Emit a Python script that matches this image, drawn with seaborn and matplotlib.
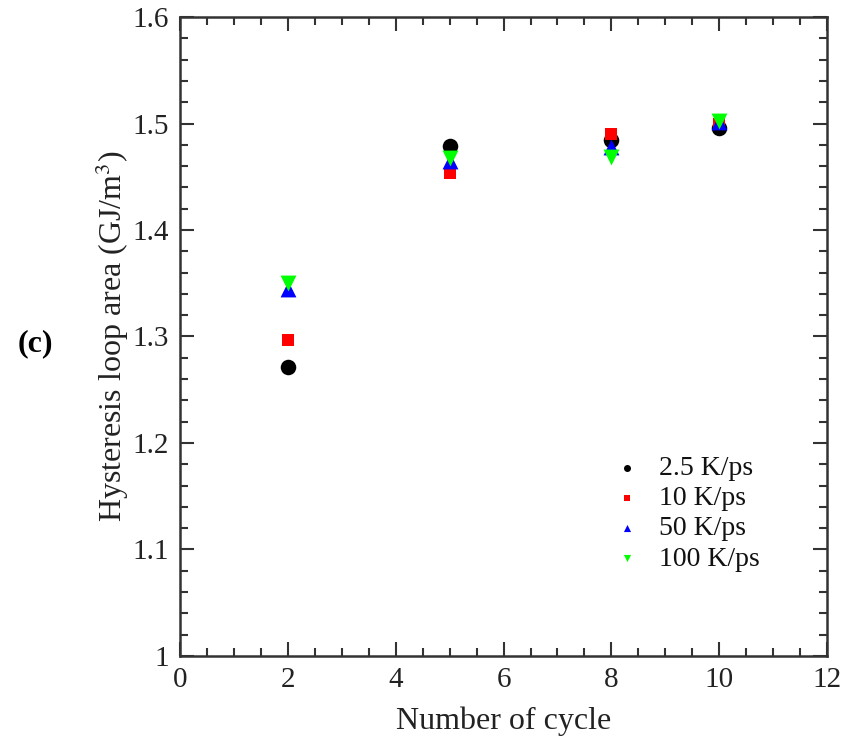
import matplotlib
matplotlib.use("Agg")
import matplotlib.pyplot as plt
import seaborn as sns
import pandas as pd
from matplotlib.ticker import MultipleLocator, FuncFormatter

cycles = [2, 5, 8, 10]
rates = ["2.5 K/ps", "10 K/ps", "50 K/ps", "100 K/ps"]
area_2_5 = [1.271, 1.479, 1.485, 1.496]
area_10 = [1.297, 1.454, 1.490, 1.500]
area_50 = [1.345, 1.465, 1.478, 1.501]
area_100 = [1.350, 1.468, 1.469, 1.502]

rows = []
for r, vals in zip(rates, [area_2_5, area_10, area_50, area_100]):
    for c, v in zip(cycles, vals):
        rows.append({"cycle": c, "area": v, "rate": r})
df = pd.DataFrame(rows)

sns.set_style("ticks")
plt.rcParams["font.family"] = ["Liberation Serif", "DejaVu Serif"]
plt.rcParams["mathtext.fontset"] = "stix"

fig = plt.figure(figsize=(8.47, 7.42), dpi=100)
ax = fig.add_axes([0.2125, 0.116, 0.764, 0.861])

palette = {"2.5 K/ps": "#000000", "10 K/ps": "#ff0000", "50 K/ps": "#0000ff", "100 K/ps": "#00ff00"}
markers = {"2.5 K/ps": "o", "10 K/ps": "s", "50 K/ps": "^", "100 K/ps": "v"}
sizes_map = {"2.5 K/ps": 125, "10 K/ps": 65, "50 K/ps": 130, "100 K/ps": 130}

for r in rates:
    sub = df[df["rate"] == r]
    sns.scatterplot(data=sub, x="cycle", y="area", color=palette[r], marker=markers[r],
                    s=sizes_map[r], linewidth=0, ax=ax, label=r)

ax.set_xlim(0, 12)
ax.set_ylim(1.0, 1.6)
ax.xaxis.set_major_locator(MultipleLocator(2))
ax.xaxis.set_minor_locator(MultipleLocator(0.5))
ax.yaxis.set_major_locator(MultipleLocator(0.1))
ax.yaxis.set_minor_locator(MultipleLocator(0.02))
ax.xaxis.set_major_formatter(FuncFormatter(lambda v, p: f"{v:g}"))
ax.yaxis.set_major_formatter(FuncFormatter(lambda v, p: f"{v:g}"))

axcol = "#333333"
ax.tick_params(which="both", direction="in", top=True, right=True, colors=axcol, labelcolor="#222222", labelsize=21, width=1.5)
ax.tick_params(which="major", length=10, pad=8)
ax.tick_params(which="minor", length=6)
for sp in ax.spines.values():
    sp.set_color(axcol)
    sp.set_linewidth(1.8)

ax.set_xlabel("Number of cycle", fontsize=23, color="#222222", labelpad=10)
ax.set_ylabel(r"Hysteresis loop area (GJ/m$^3$)", fontsize=23, color="#222222", labelpad=1)

leg = ax.legend(loc="lower right", bbox_to_anchor=(0.935, 0.093), frameon=False, fontsize=20,
                markerscale=0.45, handletextpad=0.4, labelspacing=0.17, handlelength=1.5)
for t in leg.get_texts():
    t.set_color("#111111")

fig.text(0.021, 0.537, "(c)", fontsize=23, fontweight="bold", color="black", ha="left", va="center")

fig.savefig("out.png", dpi=100)
